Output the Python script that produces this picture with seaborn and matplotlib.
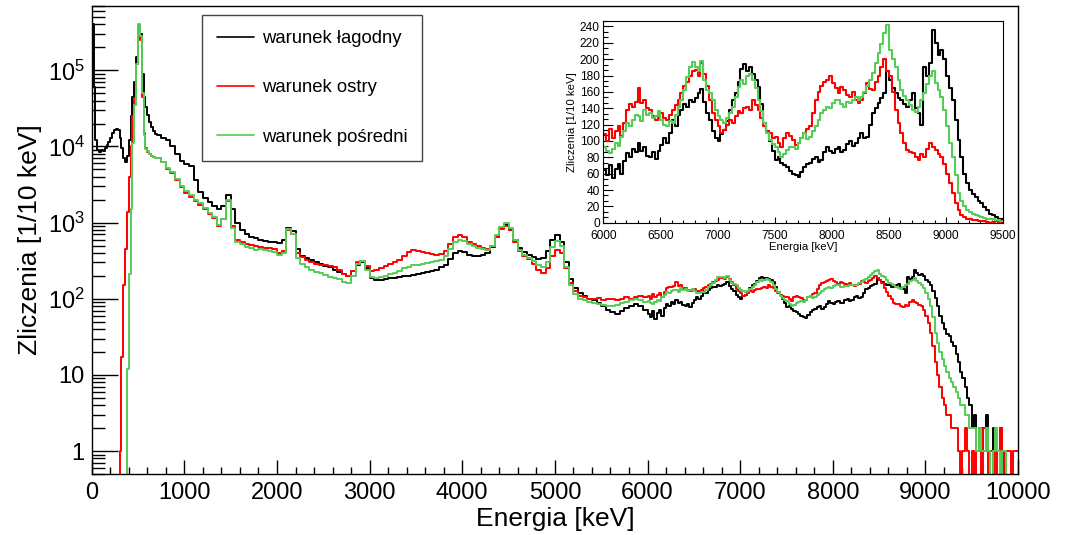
import numpy as np
import pandas as pd
import matplotlib
matplotlib.use("Agg")
import matplotlib.pyplot as plt
import seaborn as sns
from matplotlib.ticker import (MultipleLocator, LogLocator, NullFormatter, FuncFormatter,
                               AutoMinorLocator, FixedLocator)
from matplotlib.lines import Line2D

# ---------------- data (counts per 10 keV) ----------------
labels = ["warunek łagodny", "warunek ostry", "warunek pośredni"]

# bins 0-700 keV (20 keV wide)
lagodny_low = [400000, 60000, 12000, 9000, 8500, 9000, 8800, 9500, 10500, 11500,
               13000, 15000, 16500, 17000, 16500, 13000, 9500, 7000, 6200, 7500,
               12000, 25000, 45000, 70000, 150000, 380000, 300000, 90000, 45000, 33000,
               26000, 21000, 18000, 16000, 14500]
ostry_low = [0] * 15 + [1, 17, 150, 450, 1400, 4000, 10000, 25000, 42000, 120000,
                        330000, 250000, 45000, 15000, 9500, 8500, 8000, 7500, 7200, 7000]
posredni_low = [0] * 19 + [12, 210, 1500, 11000, 35000, 120000, 400000, 280000, 50000,
                           14000, 9300, 8600, 8000, 7600, 7200, 7000]

# bins 700-6000 keV (50 keV wide)
lagodny_mid = [14000, 13000, 12000, 10000, 8000, 6500, 5900, 5600, 3600, 2500,
               2100, 1850, 1650, 1500, 1650, 2300, 1500, 1000, 800, 700,
               650, 620, 600, 580, 550, 560, 540, 600, 850, 780,
               450, 370, 340, 320, 300, 290, 270, 260, 240, 225,
               210, 200, 230, 280, 300, 250, 190, 175, 178, 182,
               185, 190, 195, 198, 200, 205, 210, 215, 222, 230,
               240, 260, 280, 330, 400, 430, 410, 380, 370, 370,
               380, 400, 480, 650, 850, 930, 800, 600, 460, 410,
               380, 350, 330, 340, 420, 600, 680, 560, 300, 180,
               140, 120, 110, 100, 95, 88, 80, 72, 68, 64,
               70, 75, 80, 85, 80, 72]
ostry_mid = [7000, 6200, 5000, 4500, 3600, 2900, 2450, 2200, 1900, 1700,
             1500, 1300, 1150, 900, 1100, 1950, 900, 600, 560, 530,
             510, 500, 480, 470, 460, 450, 400, 420, 800, 700,
             400, 350, 320, 300, 290, 280, 275, 270, 265, 240,
             210, 200, 230, 300, 315, 270, 230, 240, 255, 270,
             290, 305, 320, 360, 410, 440, 430, 410, 395, 385,
             380, 390, 420, 520, 640, 680, 640, 560, 520, 490,
             470, 450, 500, 650, 830, 910, 800, 560, 420, 360,
             330, 290, 240, 220, 250, 370, 440, 400, 250, 160,
             125, 110, 105, 100, 98, 102, 96, 100, 98, 95,
             100, 104, 98, 105, 110, 104]
posredni_mid = [7000, 6300, 5200, 4600, 3700, 3000, 2600, 2300, 2000, 1800,
                1550, 1350, 1200, 920, 1100, 2000, 850, 560, 520, 480,
                460, 440, 450, 440, 420, 410, 380, 400, 820, 720,
                340, 290, 260, 240, 225, 215, 205, 195, 190, 180,
                165, 160, 200, 290, 315, 240, 195, 190, 195, 200,
                210, 220, 235, 250, 265, 275, 280, 285, 295, 300,
                310, 320, 360, 450, 560, 600, 580, 520, 490, 470,
                450, 440, 500, 680, 880, 980, 850, 600, 440, 380,
                340, 310, 280, 265, 300, 480, 580, 500, 260, 150,
                115, 100, 96, 90, 88, 85, 82, 80, 80, 84,
                88, 92, 95, 98, 96, 92]

# bins 6000-9500 keV (25 keV wide)
lagodny_high = [64, 58, 70, 55, 66, 72, 60, 75, 85, 80, 90, 86, 97, 88, 92, 82,
                80, 86, 78, 88, 95, 104, 98, 110, 125, 118, 132, 138, 145, 142, 150, 148,
                152, 158, 164, 148, 134, 125, 112, 104, 100, 108, 113, 124, 138, 150, 158, 172,
                188, 194, 186, 190, 182, 175, 166, 145, 122, 112, 100, 88, 77, 80, 73, 70,
                68, 63, 60, 58, 56, 62, 68, 72, 73, 78, 80, 74, 77, 86, 93, 88,
                85, 90, 93, 87, 89, 96, 100, 94, 97, 104, 110, 103, 105, 120, 134, 140,
                146, 152, 158, 185, 175, 165, 158, 152, 150, 145, 142, 150, 158, 140, 134, 120,
                191, 180, 195, 236, 220, 205, 211, 200, 179, 165, 150, 125, 101, 80, 60, 48,
                40, 35, 32, 27, 24, 19, 15, 11, 9, 7, 5, 4]
ostry_high = [108, 100, 115, 104, 112, 118, 106, 122, 138, 145, 142, 148, 165, 146, 150, 140,
              138, 130, 126, 132, 134, 128, 126, 132, 138, 144, 150, 158, 167, 172, 179, 185,
              187, 180, 195, 182, 167, 150, 134, 125, 118, 110, 113, 120, 126, 122, 130, 136,
              134, 140, 142, 138, 150, 144, 138, 128, 118, 112, 110, 104, 105, 98, 93, 104,
              110, 106, 101, 95, 97, 104, 110, 114, 118, 134, 150, 160, 167, 172, 175, 180,
              171, 165, 158, 166, 162, 156, 154, 160, 150, 146, 150, 158, 171, 164, 162, 172,
              179, 190, 200, 186, 179, 160, 138, 122, 110, 98, 89, 86, 85, 80, 77, 84,
              80, 90, 97, 92, 89, 84, 80, 72, 60, 48, 36, 24, 15, 10, 7, 5,
              4, 3, 3, 2, 2, 2, 1, 0, 1, 2, 1, 0]
posredni_high = [93, 88, 85, 90, 97, 94, 105, 112, 122, 118, 126, 132, 130, 124, 138, 132,
                 134, 128, 130, 136, 126, 120, 118, 124, 122, 132, 142, 150, 162, 178, 191, 196,
                 191, 186, 198, 175, 162, 158, 150, 138, 130, 126, 122, 128, 134, 142, 154, 166,
                 175, 170, 179, 182, 175, 165, 150, 136, 122, 110, 101, 96, 93, 86, 80, 84,
                 89, 92, 93, 90, 97, 104, 110, 102, 105, 112, 118, 126, 134, 138, 142, 140,
                 146, 150, 150, 145, 142, 148, 146, 150, 154, 150, 154, 160, 167, 175, 183, 195,
                 207, 218, 232, 242, 211, 200, 191, 175, 162, 155, 150, 144, 138, 135, 142, 150,
                 158, 170, 179, 185, 171, 162, 154, 138, 118, 98, 80, 58, 36, 26, 20, 16,
                 13, 11, 9, 8, 7, 6, 5, 4, 4, 3, 3, 2]

# bins 9500-10000 keV (25 keV wide)
lagodny_tail = [2, 3, 1, 2, 2, 1, 3, 1, 0, 2, 1, 1, 2, 0, 1, 0, 0, 0, 0, 0]
ostry_tail = [1, 0, 1, 1, 0, 2, 1, 0, 1, 1, 0, 1, 2, 1, 0, 1, 1, 0, 1, 1]
posredni_tail = [2, 2, 1, 2, 1, 1, 2, 1, 0, 1, 2, 1, 0, 1, 1, 0, 0, 0, 0, 0]

# ---------------- binning ----------------
edges = np.concatenate([np.arange(0, 700, 20), np.arange(700, 6000, 50),
                        np.arange(6000, 10001, 25)]).astype(float)
centers = 0.5 * (edges[:-1] + edges[1:])

series = [
    lagodny_low + lagodny_mid + lagodny_high + lagodny_tail,
    ostry_low + ostry_mid + ostry_high + ostry_tail,
    posredni_low + posredni_mid + posredni_high + posredni_tail,
]
for s in series:
    assert len(s) == len(centers), (len(s), len(centers))

colors = ["#000000", "#ff0000", "#55cc55"]
frames = [pd.DataFrame({"energia": centers, "zliczenia": np.array(s, dtype=float)})
          for s in series]

# ---------------- style ----------------
sns.set_theme(style="white")
plt.rcParams["font.family"] = ["Liberation Sans", "DejaVu Sans"]
plt.rcParams["mathtext.fontset"] = "custom"
plt.rcParams["mathtext.rm"] = "Liberation Sans"
plt.rcParams["mathtext.it"] = "Liberation Sans:italic"
plt.rcParams["mathtext.bf"] = "Liberation Sans:bold"
plt.rcParams["text.color"] = "black"
plt.rcParams["axes.labelcolor"] = "black"
plt.rcParams["xtick.color"] = "black"
plt.rcParams["ytick.color"] = "black"

fig = plt.figure(figsize=(10.74, 5.35), dpi=100)
fig.patch.set_facecolor("white")

bin_list = list(edges)

# ---------------- main axes ----------------
ax = fig.add_axes([0.0854, 0.114, 0.8625, 0.8748])
for df, c in zip(frames, colors):
    sns.histplot(data=df, x="energia", weights="zliczenia", bins=bin_list,
                 element="step", fill=False, color=c, linewidth=1.4, ax=ax)
ax.set_yscale("log", nonpositive="clip")
ax.set_xlim(0, 10000)
ax.set_ylim(0.5, 7e5)

ax.xaxis.set_major_locator(MultipleLocator(1000))
ax.xaxis.set_minor_locator(MultipleLocator(200))
ax.yaxis.set_major_locator(FixedLocator([1, 10, 100, 1000, 10000, 100000]))
ax.yaxis.set_minor_locator(LogLocator(base=10, subs=np.arange(2, 10), numticks=20))
ax.yaxis.set_minor_formatter(NullFormatter())


def ylog_fmt(v, pos):
    e = int(round(np.log10(v)))
    if e == 0:
        return "1"
    if e == 1:
        return "10"
    return r"$10^{%d}$" % e


ax.yaxis.set_major_formatter(FuncFormatter(ylog_fmt))
ax.tick_params(which="both", direction="in", bottom=True, left=True, top=False,
               right=False, colors="black", width=1.0)
ax.tick_params(axis="x", which="major", length=10, pad=6, labelsize=17)
ax.tick_params(axis="x", which="minor", length=5)
ax.tick_params(axis="y", which="major", length=19, pad=5, labelsize=17)
ax.tick_params(axis="y", which="minor", length=9.5)
for sp in ax.spines.values():
    sp.set_color("black")
    sp.set_linewidth(1.0)
ax.set_xlabel("Energia [keV]", fontsize=19, labelpad=2)
ax.set_ylabel("Zliczenia [1/10 keV]", fontsize=19, labelpad=4)
ax.set_facecolor("white")

handles = [Line2D([0], [0], color=c, lw=1.2) for c in colors]
leg = ax.legend(handles, labels, loc="upper left", bbox_to_anchor=(0.1881, 0.9714),
                bbox_transform=fig.transFigure, borderaxespad=0, frameon=True,
                fancybox=False, framealpha=1, edgecolor="#444444", fontsize=13.3,
                borderpad=0.8, labelspacing=1.75, handlelength=2.0, handletextpad=0.45)
leg.get_frame().set_linewidth(1.0)

# ---------------- inset ----------------
axi = fig.add_axes([0.5617, 0.5837, 0.3724, 0.3776])
axi.set_facecolor("white")
for df, c in zip(frames, colors):
    sns.histplot(data=df, x="energia", weights="zliczenia", bins=bin_list,
                 element="step", fill=False, color=c, linewidth=1.5, ax=axi)
axi.set_xlim(6000, 9500)
axi.set_ylim(0, 247)
axi.xaxis.set_major_locator(MultipleLocator(500))
axi.xaxis.set_minor_locator(MultipleLocator(100))
axi.yaxis.set_major_locator(MultipleLocator(20))
axi.yaxis.set_minor_locator(AutoMinorLocator(3))
axi.tick_params(which="both", direction="in", bottom=True, left=True, top=False,
                right=False, colors="black", width=0.8)
axi.tick_params(axis="x", which="major", length=4.5, pad=5, labelsize=8.6)
axi.tick_params(axis="x", which="minor", length=2.2)
axi.tick_params(axis="y", which="major", length=7, pad=2.5, labelsize=8.6)
axi.tick_params(axis="y", which="minor", length=3.5)
for sp in axi.spines.values():
    sp.set_color("black")
    sp.set_linewidth(0.8)
axi.set_xlabel("Energia [keV]", fontsize=8.2, labelpad=0)
axi.set_ylabel("Zliczenia [1/10 keV]", fontsize=8.2, labelpad=2)

fig.savefig("out.png", dpi=100)
